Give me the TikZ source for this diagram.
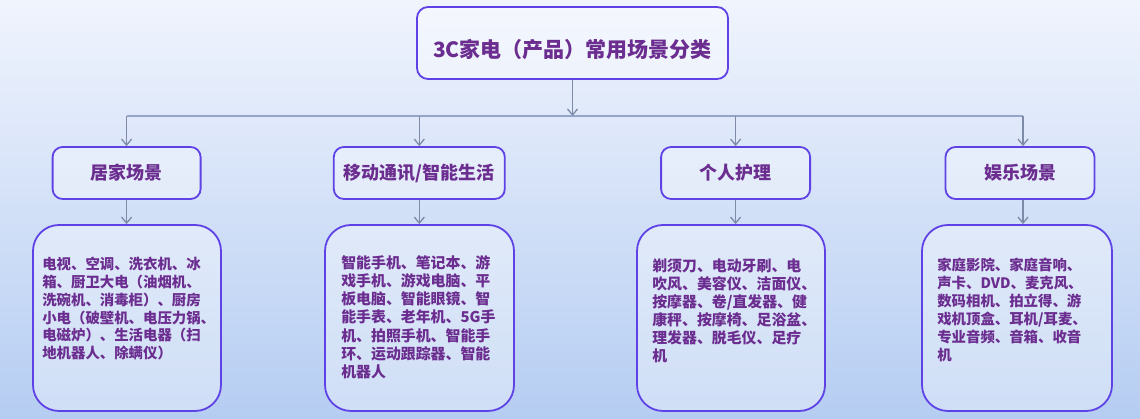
\documentclass[tikz,border=0pt]{standalone}
\usepackage{fontspec}
\setmainfont{Noto Sans CJK SC}
\usetikzlibrary{arrows.meta,calc}
\definecolor{txt}{HTML}{6B2D8F}
\definecolor{bord}{RGB}{95,66,230}
\definecolor{arrc}{HTML}{7D8AA8}
\definecolor{busc}{HTML}{95A4C8}
\definecolor{bgtop}{HTML}{F0F4FD}
\definecolor{bgbot}{HTML}{B5CDF2}
\begin{document}
\begin{tikzpicture}[x=1pt,y=1pt,
  box/.style={draw=bord, line width=1.8pt, fill=white, fill opacity=0.35, text opacity=1, inner sep=0pt},
  titlebox/.style={box, rounded corners=11pt, minimum width=311pt, minimum height=72pt},
  midbox/.style={box, rounded corners=10pt, minimum height=52pt, text=txt,
     font={\fontsize{18}{22}\selectfont\bfseries}},
  leafbox/.style={box, rounded corners=26pt, minimum height=186pt},
  leaftext/.style={anchor=north west, inner sep=0pt, align=left, text=txt},
  arr/.style={draw=arrc, line width=1.3pt, -{Straight Barb[length=6pt,width=10pt]}},
  busline/.style={draw=busc, line width=1.5pt}]
\shade[top color=bgtop, bottom color=bgbot] (0,0) rectangle (1140,419);
\useasboundingbox (0,0) rectangle (1140,419);

% title
\node[titlebox] (title) at (572.5,376) {};
\node[inner sep=0pt, text=txt, font={\fontsize{21}{25}\selectfont\bfseries}] (titletext)
  at ([yshift=-7pt]title.center) {3C家电（产品）常用场景分类};

% second level
\node[midbox, minimum width=148pt] (L1) at (126.6,246) {居家场景};
\node[midbox, minimum width=171pt] (L2) at (419.3,246) {移动通讯/智能生活};
\node[midbox, minimum width=149pt] (L3) at (735.6,246) {个人护理};
\node[midbox, minimum width=149pt] (L4) at (1020,246) {娱乐场景};

% leaves
\node[leafbox, minimum width=188pt] (b1) at (127,101) {};
\node[leafbox, minimum width=189pt] (b2) at (419.5,101) {};
\node[leafbox, minimum width=188pt] (b3) at (731,101) {};
\node[leafbox, minimum width=190pt] (b4) at (1017,101) {};

\node[leaftext, font={\fontsize{14.4}{17.8}\selectfont\bfseries}] (t1) at ([shift={(10pt,-33pt)}]b1.north west)
 {电视、空调、洗衣机、冰\\箱、厨卫大电（油烟机、\\洗碗机、消毒柜）、厨房\\小电（破壁机、电压力锅、\\电磁炉）、生活电器（扫\\地机器人、除螨仪）};
\node[leaftext, font={\fontsize{14.9}{18.2}\selectfont\bfseries}] (t2) at ([shift={(17pt,-31pt)}]b2.north west)
 {智能手机、笔记本、游\\戏手机、游戏电脑、平\\板电脑、智能眼镜、智\\能手表、老年机、5G手\\机、拍照手机、智能手\\环、运动跟踪器、智能\\机器人};
\node[leaftext, font={\fontsize{14.9}{18}\selectfont\bfseries}] (t3) at ([shift={(16pt,-34pt)}]b3.north west)
 {剃须刀、电动牙刷、电\\吹风、美容仪、洁面仪、\\按摩器、卷/直发器、健\\康秤、按摩椅、足浴盆、\\理发器、脱毛仪、足疗\\机};
\node[leaftext, font={\fontsize{14.4}{18}\selectfont\bfseries}] (t4) at ([shift={(16pt,-34pt)}]b4.north west)
 {家庭影院、家庭音响、\\声卡、DVD、麦克风、\\数码相机、拍立得、游\\戏机顶盒、耳机/耳麦、\\专业音频、音箱、收音\\机};

% connectors
\coordinate (bus) at (0,303);
\draw[arr] (title.south) -- (title.south |- bus);
\draw[busline] (L1.north |- bus) -- ([xshift=3pt]L4.north |- bus);
\foreach \n in {L1,L2,L3} {\draw[arr] (\n.north |- bus) -- (\n.north);}
\draw[arr] ([xshift=3pt]L4.north |- bus) -- ([xshift=3pt]L4.north);
\draw[arr] (L1.south) -- (L1.south |- b1.north);
\draw[arr] (L2.south) -- (L2.south |- b2.north);
\draw[arr] (L3.south) -- (L3.south |- b3.north);
\draw[arr] ([xshift=3pt]L4.south) -- ([xshift=3pt]L4.south |- b4.north);
\end{tikzpicture}
\end{document}
